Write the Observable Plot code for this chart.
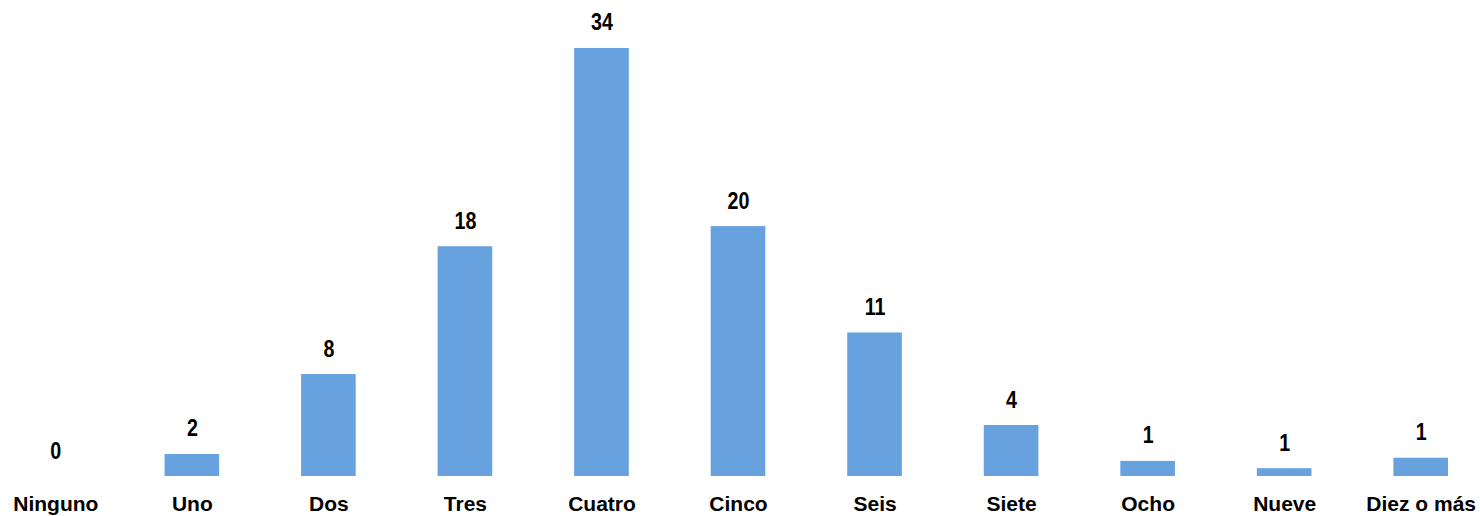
<!DOCTYPE html>
<html>
<head>
<meta charset="utf-8">
<script src="https://cdn.jsdelivr.net/npm/d3@7"></script>
<script src="https://cdn.jsdelivr.net/npm/@observablehq/plot@0.6"></script>
<style>
  html, body { margin: 0; padding: 0; background: #fff; }
  #chart svg { display: block; }
</style>
</head>
<body>
<div id="chart"></div>
<script>
const categories = ["Ninguno", "Uno", "Dos", "Tres", "Cuatro", "Cinco", "Seis", "Siete", "Ocho", "Nueve", "Diez o más"];
const values = [0, 1.75, 8.1, 18.25, 34.0, 19.85, 11.4, 4.05, 1.2, 0.62, 1.45];
const labels = ["0", "2", "8", "18", "34", "20", "11", "4", "1", "1", "1"];

const data = categories.map((c, i) => ({category: c, value: values[i], label: labels[i]}));

const chart = Plot.plot({
  width: 1480,
  height: 516,
  marginTop: 0,
  marginBottom: 40,
  marginLeft: 0,
  marginRight: 0,
  style: {background: "#fff"},
  x: {domain: categories, range: [28, 1448], paddingInner: 0.6, paddingOuter: 0, round: false, label: null},
  y: {domain: [0, 37.81], axis: null},
  marks: [
    Plot.barY(data, {x: "category", y: "value", fill: "#67a2de"}),
    Plot.text(data, {
      x: "category", y: "value", text: "label",
      lineAnchor: "bottom", dy: -18,
      fontSize: 24, fontWeight: "bold",
      fontFamily: "'Liberation Sans', Arial, sans-serif",
      fill: "#000", className: "vlabel"
    }),
    Plot.axisX({
      tickSize: 0, tickPadding: 20, fontSize: 21, fontWeight: "bold",
      fontFamily: "'Liberation Sans', Arial, sans-serif", label: null,
      color: "#000"
    })
  ]
});
chart.querySelectorAll("text").forEach(t => t.setAttribute("fill", "#000"));
// condense the value labels (narrow bold look)
chart.querySelectorAll(".vlabel text").forEach(t => {
  const x = +t.getAttribute("x") || 0;
  const prev = t.getAttribute("transform") || "";
  t.setAttribute("transform", `${prev} translate(${x},0) scale(0.82,1) translate(${-x},0)`);
});
document.getElementById("chart").appendChild(chart);
</script>
</body>
</html>
